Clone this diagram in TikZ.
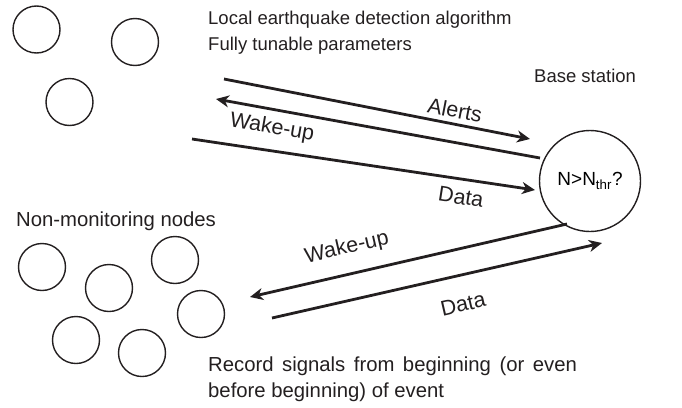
\documentclass[tikz,border=0pt]{standalone}
\usepackage{fontspec}
\setmainfont{Liberation Sans}
\usetikzlibrary{arrows.meta}
\definecolor{ink}{HTML}{231F20}
\begin{document}
\begin{tikzpicture}[x=1pt,y=-1pt,
  sensor/.style={circle, draw=ink, line width=1.4pt, minimum size=47pt, inner sep=0pt},
  basest/.style={circle, draw=ink, line width=1.4pt, minimum size=101pt, inner sep=0pt},
  flow/.style={draw=ink, line width=2.8pt, -{Stealth[length=13pt,width=12pt,inset=4pt]}},
  lbl/.style={font=\fontsize{21.5}{24}\selectfont, text=ink, inner sep=0pt},
  txt/.style={font=\fontsize{18.5}{20}\selectfont, text=ink, inner sep=0pt, anchor=base west},
  txtb/.style={font=\fontsize{20.3}{22}\selectfont, text=ink, inner sep=0pt, anchor=base west}]
\useasboundingbox (0,0) rectangle (682,407);
% monitoring nodes
\node[sensor] (m1) at (36.5,29.5) {};
\node[sensor] (m2) at (135,42) {};
\node[sensor] (m3) at (69.5,102) {};
% non-monitoring nodes
\node[sensor] (n1) at (42,267) {};
\node[sensor] (n2) at (109,288) {};
\node[sensor] (n3) at (175,260) {};
\node[sensor] (n4) at (76,340) {};
\node[sensor] (n5) at (142,353) {};
\node[sensor] (n6) at (201,314) {};
% base station
\node[basest] (bs) at (590,181) {\fontsize{19}{21}\selectfont N>N\textsubscript{thr}?};
% texts
\node[txt] (t1) at (208,24) {Local earthquake detection algorithm};
\node[txt] (t2) at (208,50) {Fully tunable parameters};
\node[txt] (t3) at (534,82) {Base station};
\node[txtb] (t4) at (16,226) {Non-monitoring nodes};
\node[txtb] (t5) at (208,371) {\spaceskip=0.42em Record signals from beginning (or even};
\node[txtb] (t6) at (208,397) {before beginning) of event};
% connector end points
\coordinate (a1) at (224,79);  \coordinate (a2) at (530,139);
\coordinate (w1) at (540,158); \coordinate (w2) at (216,99);
\coordinate (d1) at (192,139); \coordinate (d2) at (535,190);
\coordinate (bw1) at (567,224); \coordinate (bw2) at (250,297);
\coordinate (bd1) at (272,318); \coordinate (bd2) at (602,243);
\draw[flow] (a1) -- (a2);
\draw[flow] (w1) -- (w2);
\draw[flow] (d1) -- (d2);
\draw[flow] (bw1) -- (bw2);
\draw[flow] (bd1) -- (bd2);
% labels
\node[lbl, rotate=-11] (la) at (455,110) {Alerts};
\node[lbl, rotate=-10] (lw) at (272,128) {Wake-up};
\node[lbl, rotate=-9] (ld) at (461,197) {Data};
\node[lbl, rotate=13] (lbw) at (347,248) {Wake-up};
\node[lbl, rotate=13] (lbd) at (463,304) {Data};
\end{tikzpicture}
\end{document}
